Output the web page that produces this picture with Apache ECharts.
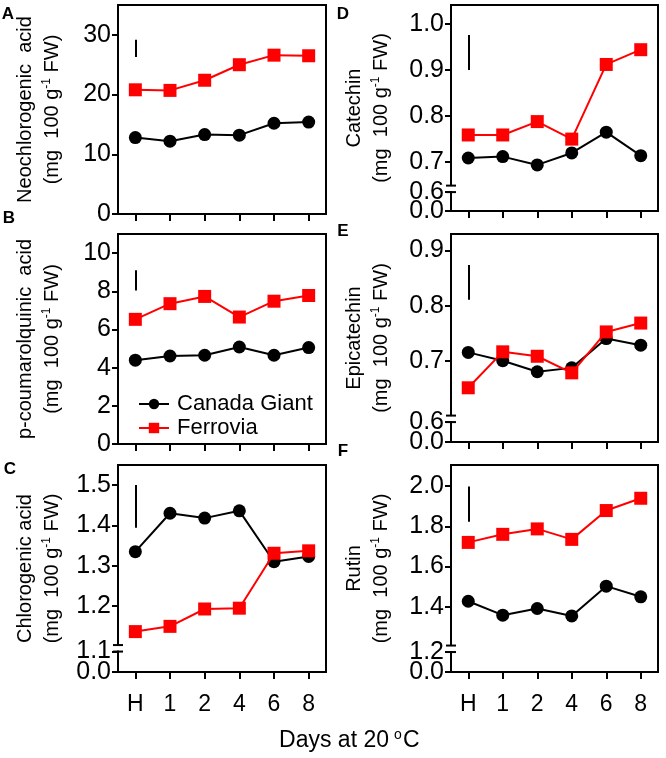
<!DOCTYPE html>
<html><head><meta charset="utf-8">
<script src="https://cdn.jsdelivr.net/npm/echarts@6/dist/echarts.min.js"></script>
<style>html,body{margin:0;padding:0;background:#fff}#c{width:666px;height:758px}</style>
</head><body><div id="c"></div>
<script>
// ---- data ----
const days = ['H', '1', '2', '4', '6', '8'];
const neoCanada   = [12.8, 12.2, 13.3, 13.2, 15.2, 15.4];
const neoFerrovia = [20.8, 20.7, 22.4, 25.0, 26.6, 26.5];
const pcqCanada   = [4.39, 4.61, 4.65, 5.08, 4.65, 5.05];
const pcqFerrovia = [6.53, 7.35, 7.73, 6.65, 7.48, 7.78];
const chlCanada   = [1.335, 1.430, 1.418, 1.436, 1.310, 1.323];
const chlFerrovia = [1.137, 1.150, 1.193, 1.195, 1.331, 1.337];
const catCanada   = [0.709, 0.712, 0.694, 0.720, 0.765, 0.714];
const catFerrovia = [0.759, 0.759, 0.788, 0.750, 0.912, 0.944];
const epiCanada   = [0.716, 0.701, 0.681, 0.688, 0.741, 0.729];
const epiFerrovia = [0.652, 0.717, 0.709, 0.679, 0.753, 0.769];
const rutCanada   = [1.428, 1.359, 1.392, 1.355, 1.503, 1.450];
const rutFerrovia = [1.720, 1.760, 1.787, 1.735, 1.878, 1.939];
// LSD bars [low, high]
const lsdNeo = [26.3, 29.2];
const lsdPcq = [8.04, 9.1];
const lsdChl = [1.394, 1.5];
const lsdCat = [0.9, 0.976];
const lsdEpi = [0.811, 0.874];
const lsdRut = [1.822, 1.997];
// y ticks (broken axes: first two ticks are the bottom "0.0" and the break label)
const neoTicks = [0, 10, 20, 30];
const neoTickLabels = ['0', '10', '20', '30'];
const pcqTicks = [0, 2, 4, 6, 8, 10];
const pcqTickLabels = ['0', '2', '4', '6', '8', '10'];
const chlTicks = [1.037, 1.0876, 1.2, 1.3, 1.4, 1.5];
const chlTickLabels = ['0.0', '1.1', '1.2', '1.3', '1.4', '1.5'];
const catTicks = [0.594, 0.635, 0.7, 0.8, 0.9, 1.0];
const catTickLabels = ['0.0', '0.6', '0.7', '0.8', '0.9', '1.0'];
const epiTicks = [0.554, 0.590, 0.7, 0.8, 0.9];
const epiTickLabels = ['0.0', '0.6', '0.7', '0.8', '0.9'];
const rutTicks = [1.077, 1.176, 1.4, 1.6, 1.8, 2.0];
const rutTickLabels = ['0.0', '1.2', '1.4', '1.6', '1.8', '2.0'];

const FONT = "'Liberation Sans', Arial, Helvetica, sans-serif";
const BLACK = '#000000', RED = '#ff0000';

const panels = [
  {letter:'A', lx:8,   ly:14,  grid:{left:118, top:5,   width:208, height:209}, name1:'Neochlorogenic  acid', nameGap:52,
   min:0, max:35, ticks:neoTicks, labels:neoTickLabels, cg:neoCanada, fe:neoFerrovia, lsd:lsdNeo, brk:false, xl:false},
  {letter:'B', lx:9,   ly:218, grid:{left:118, top:234, width:208, height:210}, name1:'p-coumarolquinic  acid', nameGap:52,
   min:0, max:11, ticks:pcqTicks, labels:pcqTickLabels, cg:pcqCanada, fe:pcqFerrovia, lsd:lsdPcq, brk:false, xl:false},
  {letter:'C', lx:10,  ly:469, grid:{left:118, top:465, width:208, height:207}, name1:'Chlorogenic acid', nameGap:52,
   min:1.037, max:1.5495, ticks:chlTicks, labels:chlTickLabels, cg:chlCanada, fe:chlFerrovia, lsd:lsdChl, brk:true, xl:true},
  {letter:'D', lx:343, ly:14,  grid:{left:451, top:5,   width:207, height:206}, name1:'Catechin', nameGap:56,
   min:0.594, max:1.041, ticks:catTicks, labels:catTickLabels, cg:catCanada, fe:catFerrovia, lsd:lsdCat, brk:true, xl:false},
  {letter:'E', lx:343, ly:231, grid:{left:451, top:234, width:207, height:208}, name1:'Epicatechin', nameGap:56,
   min:0.554, max:0.930, ticks:epiTicks, labels:epiTickLabels, cg:epiCanada, fe:epiFerrovia, lsd:lsdEpi, brk:true, xl:false},
  {letter:'F', lx:343, ly:451, grid:{left:451, top:465, width:207, height:207}, name1:'Rutin', nameGap:56,
   min:1.077, max:2.104, ticks:rutTicks, labels:rutTickLabels, cg:rutCanada, fe:rutFerrovia, lsd:lsdRut, brk:true, xl:true}
];

function labelFor(p, v) {
  let best = 0, bd = Infinity;
  p.ticks.forEach((t, i) => { const d = Math.abs(t - v); if (d < bd) { bd = d; best = i; } });
  return p.labels[best];
}

const grids = [], xAxes = [], yAxes = [], series = [];
const extraY = [];
panels.forEach((p, i) => {
  grids.push(Object.assign({show:true, borderColor:BLACK, borderWidth:2, containLabel:false}, p.grid));
  xAxes.push({
    type:'category', gridIndex:i, data:days, boundaryGap:true,
    axisLine:{show:true, lineStyle:{color:BLACK, width:2}},
    axisTick:{show:true, alignWithLabel:true, length:7, lineStyle:{color:BLACK, width:2}},
    axisLabel:{show:p.xl, color:BLACK, fontSize:23, fontFamily:FONT, margin:21},
    splitLine:{show:false}
  });
  const mainTicks = p.brk ? p.ticks.filter((t, k) => k !== 1) : p.ticks;
  yAxes.push({
    type:'value', gridIndex:i, min:p.min, max:p.max,
    name:'{t|' + p.name1 + '}\n{t|(mg  100 g}{s|-1}{t| FW)}',
    nameLocation:'middle', nameRotate:90, nameGap:p.nameGap,
    nameTextStyle:{color:BLACK, fontFamily:FONT, rich:{
      t:{fontSize:20, lineHeight:27, color:BLACK, fontFamily:FONT},
      s:{fontSize:12, lineHeight:27, verticalAlign:'top', padding:[2,0,0,0], color:BLACK, fontFamily:FONT}
    }},
    axisLine:{show:true, lineStyle:{color:BLACK, width:2}},
    axisTick:{show:true, length:6, lineStyle:{color:BLACK, width:2}, customValues:mainTicks},
    axisLabel:{show:true, color:BLACK, fontSize:25, fontFamily:FONT, margin:7, customValues:mainTicks,
      showMinLabel:true, showMaxLabel:true, hideOverlap:false,
      formatter:(v) => labelFor(p, v)},
    splitLine:{show:false}
  });
  if (p.brk) {
    // second axis on the same grid carrying only the break label
    extraY.push({
      type:'value', gridIndex:i, min:p.min, max:p.max, position:'left',
      axisLine:{show:false},
      axisTick:{show:true, length:6, lineStyle:{color:BLACK, width:2}, customValues:[p.ticks[1]]},
      axisLabel:{show:true, color:BLACK, fontSize:25, fontFamily:FONT, margin:7, customValues:[p.ticks[1]],
        showMinLabel:true, showMaxLabel:true, hideOverlap:false,
        formatter:(v) => labelFor(p, v)},
      splitLine:{show:false}
    });
  }
  series.push({
    name:'Canada Giant', type:'line', xAxisIndex:i, yAxisIndex:i, data:p.cg,
    symbol:'circle', symbolSize:13, color:BLACK,
    lineStyle:{color:BLACK, width:2}, itemStyle:{color:BLACK},
    z:3,
    markLine:{silent:true, symbol:['none','none'], label:{show:false},
      lineStyle:{color:BLACK, width:2, type:'solid'},
      data:[[{coord:[0, p.lsd[0]]}, {coord:[0, p.lsd[1]]}]]}
  });
  series.push({
    name:'Ferrovia', type:'line', xAxisIndex:i, yAxisIndex:i, data:p.fe,
    symbol:'rect', symbolSize:13, color:RED,
    lineStyle:{color:RED, width:2}, itemStyle:{color:RED}, z:4
  });
});

const chart = echarts.init(document.getElementById('c'), null, {renderer:'canvas'});
chart.setOption({
  animation:false,
  backgroundColor:'#ffffff',
  grid:grids, xAxis:xAxes, yAxis:yAxes.concat(extraY), series:series,
  legend:{
    data:['Canada Giant','Ferrovia'], orient:'vertical', left:133, top:388,
    itemWidth:30, itemHeight:13, itemGap:2,
    textStyle:{color:BLACK, fontSize:22, fontFamily:FONT, lineHeight:22, padding:[0,0,0,3]}
  }
});

// decorations: panel letters, x title, axis break marks
const gfx = [];
panels.forEach((p, i) => {
  gfx.push({type:'text', x:p.lx, y:p.ly, z:100,
    style:{text:p.letter, fontSize:17, fontWeight:'bold', fontFamily:FONT, fill:BLACK, align:'center', verticalAlign:'middle'}});
  if (p.brk) {
    const y = chart.convertToPixel({yAxisIndex:i}, p.ticks[1]);
    const x = p.grid.left;
    gfx.push({type:'rect', z:100, shape:{x:x - 3, y:y - 6, width:6, height:5}, style:{fill:'#ffffff'}});
    gfx.push({type:'line', z:101, shape:{x1:x - 5, y1:y - 6.5, x2:x + 5, y2:y - 6.5}, style:{stroke:BLACK, lineWidth:2}});
    gfx.push({type:'line', z:101, shape:{x1:x - 5, y1:y, x2:x + 5, y2:y}, style:{stroke:BLACK, lineWidth:2}});
  }
});
gfx.push({type:'text', z:100, x:389, y:741,
  style:{text:'Days at 20', fontSize:23, fontFamily:FONT, fill:BLACK, align:'right', verticalAlign:'middle'}});
gfx.push({type:'text', z:100, x:394, y:735,
  style:{text:'o', fontSize:14, fontFamily:FONT, fill:BLACK, align:'left', verticalAlign:'middle'}});
gfx.push({type:'text', z:100, x:403, y:741,
  style:{text:'C', fontSize:23, fontFamily:FONT, fill:BLACK, align:'left', verticalAlign:'middle'}});
chart.setOption({graphic:gfx});
</script>
</body></html>
